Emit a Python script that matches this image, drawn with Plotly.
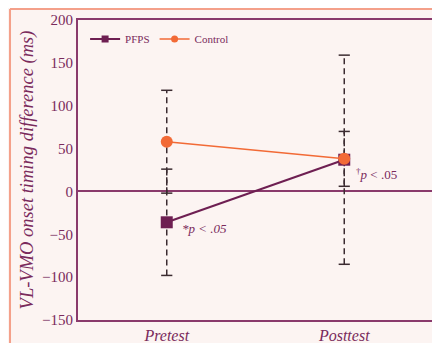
import plotly.graph_objects as go

categories = ["Pretest", "Posttest"]
pfps_mean = [-36, 37]
pfps_sd = [62, 122]
control_mean = [58, 38]
control_sd = [60, 32]
y_ticks = [-150, -100, -50, 0, 50, 100, 150, 200]

PURPLE = "#6e1f52"
AXIS = "#8a3a6c"
ORANGE = "#f26a36"
TEXTC = "#7a2a5c"
ERR = "#3b2b30"
BG = "#fcf4f2"
FONT = "Liberation Serif"

fig = go.Figure()

# dashed error bars
for means, sds in [(pfps_mean, pfps_sd), (control_mean, control_sd)]:
    for c, m, s in zip(categories, means, sds):
        fig.add_trace(go.Scatter(x=[c, c], y=[m - s, m + s], mode="lines+markers",
                                 line=dict(color=ERR, width=1.5, dash="6px,4px"),
                                 marker=dict(symbol="line-ew-open", size=8,
                                             line=dict(color=ERR, width=1.5)),
                                 showlegend=False, hoverinfo="skip"))

fig.add_trace(go.Scatter(x=categories, y=pfps_mean, mode="lines+markers", name="PFPS",
                         line=dict(color=PURPLE, width=2), showlegend=False,
                         marker=dict(symbol="square", size=12, color=PURPLE)))
fig.add_trace(go.Scatter(x=categories, y=control_mean, mode="lines+markers", name="Control",
                         line=dict(color=ORANGE, width=1.5), showlegend=False,
                         marker=dict(symbol="circle", size=12, color=ORANGE)))
# legend entries (smaller symbols)
fig.add_trace(go.Scatter(x=[None], y=[None], mode="lines+markers", name="PFPS",
                         line=dict(color=PURPLE, width=2),
                         marker=dict(symbol="square", size=7, color=PURPLE)))
fig.add_trace(go.Scatter(x=[None], y=[None], mode="lines+markers", name="Control",
                         line=dict(color=ORANGE, width=1.5),
                         marker=dict(symbol="circle", size=7, color=ORANGE)))

fig.add_annotation(x="Pretest", y=pfps_mean[0], text="<i>*p < .05</i>", showarrow=False,
                   xanchor="left", yanchor="middle", xshift=13, yshift=-6,
                   font=dict(family=FONT, size=13, color=TEXTC))
fig.add_annotation(x="Posttest", y=pfps_mean[1], text="<sup>†</sup><i>p</i> < .05", showarrow=False,
                   xanchor="left", yanchor="middle", xshift=10, yshift=-14,
                   font=dict(family=FONT, size=13, color=TEXTC))

# outer page frame
fig.add_shape(type="line", xref="paper", yref="paper", x0=-0.1915, x1=-0.1915, y0=1.037, y1=-0.1,
              line=dict(color="#f4a08a", width=2))
fig.add_shape(type="line", xref="paper", yref="paper", x0=-0.1915, x1=1.05, y0=1.037, y1=1.037,
              line=dict(color="#f4a08a", width=2))

fig.update_layout(
    width=432, height=335,
    margin=dict(l=70, r=7, t=12, b=23, autoexpand=False),
    paper_bgcolor=BG, plot_bgcolor=BG,
    font=dict(family=FONT, color=TEXTC),
    legend=dict(x=0.02, y=0.985, xanchor="left", yanchor="top", orientation="h",
                bgcolor="rgba(0,0,0,0)", font=dict(size=11, color=TEXTC),
                itemwidth=30, tracegroupgap=0),
    xaxis=dict(type="category", range=[-0.5, 1.5], showgrid=False, zeroline=False,
               automargin=False,
               tickvals=categories, ticktext=["<i>" + c + "</i>" for c in categories],
               showline=True, linecolor=AXIS, linewidth=2, mirror=True,
               tickfont=dict(family=FONT, size=16, color=TEXTC), ticks=""),
    yaxis=dict(range=[-150, 200], tickvals=y_ticks, showgrid=False, automargin=False,
               zeroline=True, zerolinecolor=AXIS, zerolinewidth=1.5,
               showline=True, linecolor=AXIS, linewidth=2, mirror=True,
               ticks="", tickfont=dict(family=FONT, size=15, color=TEXTC),
               title=dict(text="<i>VL-VMO onset timing difference (ms)</i>",
                          font=dict(family=FONT, size=18.5, color=TEXTC), standoff=4)),
)

fig.write_html("out.html")
